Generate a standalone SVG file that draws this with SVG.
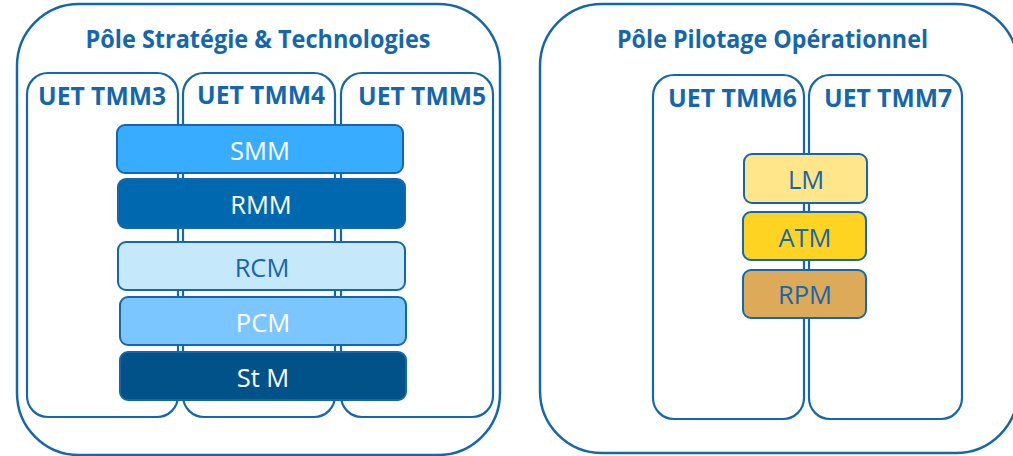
<svg xmlns="http://www.w3.org/2000/svg" width="1013" height="456" viewBox="0 0 1013 456">
<style>
.box{fill:none;stroke:#1467AD;stroke-width:2.5}
.uet{fill:#fff;stroke:#1467AD;stroke-width:2.2}
.mod{stroke:#1467AD;stroke-width:2}
.title{font-family:"Open Sans","Liberation Sans",sans-serif;font-weight:bold;font-size:25px;fill:#1467AD;text-anchor:middle}
.lbl{font-family:"Open Sans","Liberation Sans",sans-serif;font-weight:bold;font-size:25px;fill:#1467AD;text-anchor:middle}
.mt{font-family:"Open Sans","Liberation Sans",sans-serif;font-size:25.5px;text-anchor:middle}
.w{fill:#fff}
.b{fill:#1467AD}
</style>
<rect width="1013" height="456" fill="#fff"/>
<g id="pole-strategie">
<rect class="box" x="17" y="4" width="483" height="451" rx="62"/>
<text class="title" x="258" y="48" textLength="345" lengthAdjust="spacingAndGlyphs">Pôle Stratégie &amp; Technologies</text>
</g>
<g id="pole-pilotage">
<rect class="box" x="540" y="4" width="478" height="449" rx="62"/>
<text class="title" x="772.5" y="48" textLength="311" lengthAdjust="spacingAndGlyphs">Pôle Pilotage Opérationnel</text>
</g>
<g id="uet-tmm3">
<rect class="uet" x="27" y="73" width="151" height="344" rx="21"/>
<text class="lbl" x="102" y="105" textLength="128" lengthAdjust="spacingAndGlyphs">UET TMM3</text>
</g>
<g id="uet-tmm4">
<rect class="uet" x="183" y="73" width="152" height="344" rx="21"/>
<text class="lbl" x="261" y="104" textLength="128" lengthAdjust="spacingAndGlyphs">UET TMM4</text>
</g>
<g id="uet-tmm5">
<rect class="uet" x="341" y="73" width="152" height="344" rx="21"/>
<text class="lbl" x="422" y="105" textLength="128" lengthAdjust="spacingAndGlyphs">UET TMM5</text>
</g>
<g id="uet-tmm6">
<rect class="uet" x="653" y="75" width="151" height="344" rx="21"/>
<text class="lbl" x="732.5" y="107" textLength="129" lengthAdjust="spacingAndGlyphs">UET TMM6</text>
</g>
<g id="uet-tmm7">
<rect class="uet" x="809" y="75" width="153" height="344" rx="21"/>
<text class="lbl" x="888" y="107" textLength="128" lengthAdjust="spacingAndGlyphs">UET TMM7</text>
</g>
<g id="smm">
<rect class="mod" x="117" y="125" width="286" height="48" rx="8" fill="#38ADFF"/>
<text class="mt w" x="260" y="160">SMM</text>
</g>
<g id="rmm">
<rect class="mod" x="118" y="179" width="287" height="49" rx="8" fill="#0068AE"/>
<text class="mt w" x="261" y="214">RMM</text>
</g>
<g id="rcm">
<rect class="mod" x="118" y="242" width="287" height="48" rx="8" fill="#C6E8FB"/>
<text class="mt b" x="262" y="277">RCM</text>
</g>
<g id="pcm">
<rect class="mod" x="120" y="297" width="286" height="48" rx="8" fill="#7CC6FF"/>
<text class="mt w" x="263" y="332">PCM</text>
</g>
<g id="stm">
<rect class="mod" x="120" y="352" width="286" height="48" rx="8" fill="#005288"/>
<text class="mt w" x="263" y="387">St M</text>
</g>
<g id="lm">
<rect class="mod" x="744" y="154" width="123" height="49" rx="8" fill="#FFE68A"/>
<text class="mt b" x="806" y="189">LM</text>
</g>
<g id="atm">
<rect class="mod" x="743" y="212" width="123" height="48" rx="8" fill="#FFD322"/>
<text class="mt b" x="805" y="247">ATM</text>
</g>
<g id="rpm">
<rect class="mod" x="743" y="270" width="123" height="48" rx="8" fill="#DDAA5A"/>
<text class="mt b" x="805" y="304">RPM</text>
</g>
<g id="connectors"></g>
</svg>
